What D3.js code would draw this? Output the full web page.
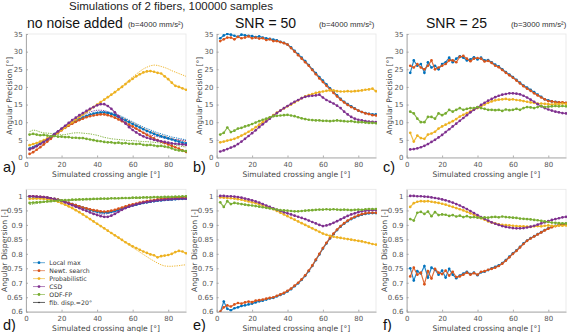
<!DOCTYPE html>
<html><head><meta charset="utf-8">
<script src="https://cdn.jsdelivr.net/npm/d3@7"></script>
<style>body{margin:0;background:#fff}svg{display:block}</style>
</head><body><svg id="chart" width="568" height="332"></svg>
<script>
// ---------- categories ----------
const angles = [2,4,6,8,10,12,14,16,18,20,22,24,26,28,30,32,34,36,38,40,42,44,46,48,50,52,54,56,58,60,62,64,66,68,70,72,74,76,78,80,82,84,86,88,90];
const methods = ["Local max","Newt. search","Probabilistic","CSD","ODF-FP"];
const dispLabel = "fib. disp.=20°";
const colors = ["#0072BD","#D95319","#EDB120","#7E2F8E","#77AC30"];
const xTicks = [0,20,40,60,80];
const precTicks = [0,5,10,15,20,25,30,35];
const dispTicks = [0.6,0.65,0.7,0.75,0.8,0.85,0.9,0.95,1];
const titleText = "Simulations of 2 fibers, 100000 samples";
const colTitles = ["no noise added","SNR = 50","SNR = 25"];
const colSubs = ["(b=4000 mm/s²)","(b=4000 mm/s²)","(b=3000 mm/s²)"];
const panelLetters = ["a)","b)","c)","d)","e)","f)"];

// ---------- panel a : precision, no noise ----------
const aBlue = [2.5,2.8,3.3,3.9,4.5,5.2,5.9,6.6,7.3,8.0,8.6,9.2,9.8,10.3,10.8, 11.3,11.7,12.1,12.4,12.6,12.7,12.7,12.6,12.3,12.0,11.5,11.0,10.5,10.0,9.5, 9.0,8.5,8.0,7.5,7.1,6.7,6.3,6.0,5.7,5.4,5.1,4.8,4.5,4.2,4.0];
const aRed = [1.0,1.5,2.2,2.9,3.7,4.5,5.3,6.2,7.0,7.7,8.4,9.0,9.6,10.1,10.6, 11.0,11.4,11.7,11.9,12.1,12.2,12.2,12.0,11.7,11.3,10.8,10.3,9.8,9.3,8.8, 8.2,7.6,7.0,6.4,5.9,5.4,4.9,4.5,4.1,3.7,3.3,2.9,2.5,2.0,1.6];
const aOrange = [3.5,3.8,4.1,4.5,4.9,5.4,5.9,6.4,7.1,7.8,8.5,9.3,10.0,10.8,11.5, 12.2,12.9,13.6,14.3,15.0,15.7,16.4,17.1,17.8,18.5,19.3,20.0,20.8,21.6,22.3, 23.0,23.6,24.1,24.4,24.5,24.3,24.0,23.8,23.0,22.2,21.2,20.3,20.0,19.6,19.2];
const aPurple = [2.3,2.7,3.2,3.8,4.4,5.1,5.8,6.6,7.4,8.2,9.0,9.8,10.6,11.3,12.0, 12.6,13.2,13.8,14.3,14.8,15.1,15.1,14.6,13.8,12.8,11.7,10.6,9.6,8.6,7.8, 7.1,6.5,6.0,5.6,5.3,5.0,4.8,4.6,4.4,4.2,4.0,3.9,3.8,3.7,3.6];
const aGreen = [6.5,6.7,6.5,6.3,6.4,6.2,6.0,6.1,5.9,5.9,5.8,5.8,5.6,5.6,5.5, 5.5,5.3,5.1,4.9,4.7,4.6,4.4,4.3,4.3,4.1,4.2,4.0,4.1,3.9,3.9, 3.8,3.9,3.6,3.5,3.6,3.4,3.2,3.3,3.1,2.9,2.6,2.2,2.0,1.9,1.8];
const aBlueD = [2.8,3.1,3.6,4.1,4.7,5.4,6.0,6.7,7.4,8.1,8.8,9.4,10.0,10.6,11.1, 11.6,12.0,12.4,12.7,12.9,13.0,13.0,12.9,12.7,12.4,12.0,11.6,11.1,10.6,10.1, 9.6,9.1,8.6,8.2,7.8,7.4,7.0,6.7,6.4,6.1,5.8,5.6,5.4,5.2,5.0];
const aRedD = [2.0,2.5,3.1,3.8,4.5,5.2,5.9,6.6,7.3,8.0,8.7,9.3,9.9,10.5,11.0, 11.4,11.8,12.1,12.4,12.6,12.7,12.7,12.6,12.4,12.1,11.7,11.3,10.8,10.3,9.8, 9.3,8.8,8.3,7.8,7.4,7.0,6.6,6.3,6.0,5.7,5.4,5.1,4.9,4.7,4.5];
const aOrangeD = [3.5,3.8,4.1,4.5,4.9,5.4,5.9,6.4,7.1,7.8,8.5,9.3,10.0,10.8,11.5, 12.2,12.9,13.6,14.3,15.0,15.7,16.4,17.1,17.8,18.5,19.4,20.2,21.1,22.0,22.8, 23.6,24.4,25.1,25.6,26.0,26.2,26.1,25.8,25.5,25.1,24.6,24.2,23.8,23.4,23.0];
const aPurpleD = [2.6,3.0,3.5,4.1,4.7,5.4,6.1,6.8,7.5,8.2,8.9,9.6,10.3,10.9,11.5, 12.0,12.5,12.9,13.2,13.4,13.4,13.3,13.0,12.5,11.9,11.2,10.5,9.8,9.1,8.5, 8.0,7.5,7.1,6.7,6.4,6.1,5.9,5.7,5.5,5.3,5.2,5.1,5.0,4.9,4.8];
const aGreenD = [7.3,7.8,7.6,7.2,7.0,6.9,6.8,6.6,6.5,6.4,6.5,6.7,6.9,7.0,7.0, 6.9,6.8,6.7,6.5,6.3,6.0,5.7,5.5,5.3,5.2,5.1,5.0,4.9,4.8,4.8, 4.7,4.6,4.5,4.5,4.4,4.3,4.2,4.1,4.0,3.9,3.7,3.5,3.3,3.1,3.0];

// ---------- panel b : precision, SNR 50 ----------
const bBlue = [33.8,34.6,35.0,34.8,34.5,34.2,34.8,34.6,34.5,34.4,34.1,34.3,34.0,33.8,33.6, 33.4,33.2,32.8,32.5,32.0,31.2,30.2,29.3,28.3,27.3,26.2,25.0,23.9,22.8,21.8, 20.7,19.6,18.6,17.6,16.6,15.8,15.1,14.5,13.9,13.3,12.9,12.6,12.4,12.2,12.2];
const bRed = [33.0,33.5,34.0,34.0,33.5,34.2,33.8,34.0,34.3,33.8,34.0,33.7,33.8,33.3,33.5, 33.0,33.0,32.7,32.4,32.0,31.0,30.0,29.0,28.0,27.0,26.0,24.8,23.6,22.4,21.4, 20.3,19.3,18.3,17.3,16.4,15.6,14.9,14.3,13.8,13.3,12.9,12.5,12.3,12.0,11.9];
const bOrange = [4.3,4.5,4.8,5.0,5.3,5.7,6.2,6.7,7.3,7.9,8.6,9.3,10.0,10.7,11.3, 12.0,12.7,13.3,13.9,14.5,15.0,15.6,16.2,16.8,17.3,17.7,18.0,18.3,18.5,18.7, 18.9,19.0,19.0,18.8,18.7,18.7,18.8,18.7,18.8,18.9,19.0,19.2,19.3,19.5,18.8];
const bPurple = [1.7,2.0,2.4,2.8,3.2,3.8,4.5,5.3,6.1,6.9,7.7,8.6,9.4,10.2,11.0, 11.8,12.6,13.3,14.0,14.6,15.2,15.8,16.3,16.8,17.2,17.4,17.5,17.6,17.8,17.0, 16.3,15.8,15.3,14.7,14.0,13.0,12.2,11.5,11.0,10.7,10.5,10.3,10.2,10.1,10.0];
const bGreen = [6.5,7.0,8.5,7.2,7.6,8.2,8.4,8.8,9.1,9.5,9.9,10.3,10.7,11.0,11.4, 11.7,11.8,11.9,12.0,12.1,11.9,11.7,11.4,11.1,10.9,10.7,10.6,10.5,10.5,10.4, 10.4,10.3,10.4,10.5,10.4,10.3,10.2,10.3,10.1,10.0,10.0,9.9,9.8,9.8,9.7];

// ---------- panel c : precision, SNR 25 ----------
const cBlue = [24.0,27.5,26.0,26.5,24.0,27.0,25.5,26.0,25.0,26.5,27.0,28.3,27.0,28.0,28.7, 28.3,27.5,27.8,28.4,27.8,28.3,27.5,27.6,27.0,26.3,25.8,25.0,24.2,23.5,22.8, 22.0,21.2,20.4,19.8,19.2,18.5,17.8,17.2,16.5,16.2,15.9,15.8,15.6,15.5,15.4];
const cRed = [26.0,25.5,26.5,25.5,25.0,26.0,27.5,25.0,25.5,26.0,26.5,27.5,27.5,27.0,28.5, 28.8,28.0,27.3,28.0,28.2,28.0,27.2,27.4,26.8,26.0,25.6,24.8,24.0,23.3,22.6, 21.8,21.0,20.2,19.5,18.9,18.2,17.6,17.0,16.5,16.0,15.9,15.7,15.6,15.6,15.5];
const cOrange = [7.0,4.5,6.2,5.5,5.3,6.5,6.8,7.3,8.2,8.8,9.3,9.8,10.3,10.9,11.6, 12.1,12.6,13.1,13.6,14.0,14.5,15.0,15.5,15.9,16.2,16.4,16.5,16.6,16.4,16.5, 16.3,16.2,16.0,15.8,15.6,15.5,15.3,15.3,15.2,15.1,15.0,15.2,15.1,15.3,15.2];
const cPurple = [2.3,2.4,2.6,2.9,3.3,3.8,4.4,5.0,5.7,6.4,7.2,8.0,8.8,9.6,10.4, 11.2,12.0,12.8,13.5,14.2,14.9,15.5,16.1,16.6,17.1,17.5,17.8,18.0,18.2,18.2, 18.1,17.9,17.5,17.0,16.4,15.8,15.1,14.5,14.0,13.6,13.3,13.0,12.8,12.6,12.5];
const cGreen = [13.0,12.5,11.0,10.0,10.0,11.5,11.5,11.0,12.5,12.0,12.5,13.5,13.0,13.5,14.0, 13.5,13.8,14.0,14.0,14.3,14.0,13.8,13.5,13.5,13.4,13.5,13.2,13.6,13.4,13.5, 13.8,13.5,14.0,14.3,14.2,14.0,14.3,14.6,14.3,14.4,14.5,14.6,14.5,14.6,14.5];

// ---------- panel d : dispersion, no noise ----------
const dBlue = [0.998,0.998,0.997,0.996,0.995,0.994,0.992,0.990,0.987,0.984,0.980,0.976,0.972,0.968,0.964, 0.960,0.956,0.952,0.949,0.946,0.944,0.943,0.943,0.945,0.948,0.952,0.956,0.960,0.964,0.967, 0.970,0.973,0.976,0.978,0.980,0.982,0.984,0.985,0.986,0.987,0.988,0.989,0.990,0.990,0.991];
const dRed = [0.999,0.999,0.998,0.997,0.996,0.994,0.992,0.990,0.987,0.984,0.980,0.976,0.972,0.968,0.964, 0.960,0.957,0.954,0.951,0.949,0.947,0.946,0.947,0.949,0.952,0.956,0.960,0.964,0.968,0.971, 0.974,0.977,0.980,0.982,0.984,0.986,0.988,0.990,0.991,0.992,0.993,0.994,0.995,0.996,0.997];
const dOrange = [0.990,0.991,0.991,0.991,0.990,0.989,0.987,0.984,0.980,0.975,0.970,0.964,0.958,0.951,0.944, 0.936,0.928,0.920,0.912,0.904,0.896,0.888,0.880,0.872,0.864,0.856,0.848,0.840,0.833,0.826, 0.820,0.814,0.808,0.803,0.798,0.795,0.788,0.792,0.794,0.796,0.800,0.806,0.810,0.808,0.802];
const dPurple = [0.999,0.999,0.998,0.997,0.996,0.994,0.992,0.989,0.986,0.983,0.978,0.973,0.968,0.963,0.958, 0.953,0.948,0.943,0.938,0.934,0.930,0.928,0.928,0.932,0.938,0.945,0.952,0.958,0.963,0.967, 0.971,0.974,0.977,0.979,0.981,0.983,0.985,0.986,0.987,0.988,0.989,0.990,0.990,0.991,0.991];
const dGreen = [0.976,0.977,0.978,0.979,0.980,0.981,0.982,0.983,0.984,0.985,0.986,0.986,0.987,0.987,0.988, 0.988,0.989,0.989,0.990,0.990,0.991,0.991,0.991,0.992,0.992,0.992,0.993,0.993,0.993,0.994, 0.994,0.994,0.995,0.995,0.995,0.996,0.996,0.996,0.997,0.997,0.997,0.998,0.998,0.999,0.999];
const dBlueD = [0.997,0.997,0.996,0.995,0.994,0.993,0.991,0.989,0.986,0.983,0.979,0.975,0.970,0.966,0.962, 0.958,0.954,0.950,0.946,0.943,0.941,0.940,0.941,0.943,0.946,0.950,0.954,0.958,0.962,0.965, 0.968,0.971,0.974,0.976,0.978,0.980,0.982,0.983,0.984,0.985,0.986,0.987,0.988,0.988,0.989];
const dRedD = [0.998,0.998,0.997,0.996,0.995,0.993,0.991,0.989,0.986,0.983,0.979,0.975,0.971,0.967,0.963, 0.959,0.955,0.952,0.949,0.946,0.944,0.943,0.944,0.946,0.949,0.953,0.957,0.961,0.965,0.968, 0.971,0.974,0.977,0.979,0.981,0.983,0.985,0.987,0.988,0.989,0.990,0.991,0.992,0.993,0.994];
const dOrangeD = [0.990,0.991,0.991,0.991,0.990,0.989,0.987,0.984,0.980,0.975,0.970,0.964,0.958,0.951,0.944, 0.936,0.928,0.920,0.912,0.904,0.896,0.888,0.880,0.872,0.864,0.856,0.848,0.840,0.830,0.822, 0.814,0.806,0.798,0.790,0.782,0.775,0.768,0.762,0.758,0.757,0.757,0.758,0.759,0.761,0.762];
const dPurpleD = [0.998,0.998,0.997,0.996,0.995,0.993,0.991,0.988,0.985,0.982,0.977,0.972,0.967,0.962,0.957, 0.952,0.948,0.944,0.940,0.938,0.937,0.937,0.939,0.942,0.946,0.951,0.956,0.960,0.964,0.967, 0.970,0.973,0.976,0.978,0.980,0.982,0.983,0.984,0.985,0.986,0.987,0.988,0.988,0.989,0.989];
const dGreenD = [0.970,0.972,0.974,0.976,0.978,0.979,0.980,0.981,0.982,0.983,0.984,0.984,0.985,0.985,0.986, 0.986,0.987,0.987,0.988,0.988,0.989,0.989,0.989,0.990,0.990,0.990,0.991,0.991,0.991,0.992, 0.992,0.992,0.993,0.993,0.993,0.994,0.994,0.994,0.995,0.995,0.995,0.996,0.996,0.997,0.997];

// ---------- panel e : dispersion, SNR 50 ----------
const eBlue = [0.598,0.635,0.610,0.605,0.612,0.615,0.620,0.622,0.625,0.628,0.632,0.636,0.638,0.642,0.646, 0.648,0.653,0.658,0.663,0.670,0.678,0.688,0.698,0.710,0.724,0.740,0.758,0.778,0.798,0.818, 0.836,0.853,0.868,0.882,0.894,0.904,0.913,0.920,0.926,0.931,0.935,0.938,0.940,0.941,0.941];
const eRed = [0.600,0.615,0.622,0.618,0.625,0.630,0.628,0.632,0.635,0.633,0.638,0.640,0.642,0.645,0.648, 0.650,0.655,0.660,0.665,0.672,0.680,0.690,0.700,0.712,0.726,0.742,0.760,0.780,0.800,0.820, 0.838,0.855,0.870,0.884,0.896,0.906,0.915,0.922,0.928,0.933,0.937,0.940,0.942,0.942,0.942];
const eOrange = [0.995,0.994,0.993,0.992,0.991,0.989,0.987,0.984,0.981,0.978,0.975,0.971,0.967,0.963,0.959, 0.954,0.948,0.942,0.936,0.930,0.924,0.918,0.912,0.906,0.900,0.894,0.888,0.882,0.876,0.870, 0.866,0.862,0.859,0.857,0.855,0.853,0.851,0.849,0.847,0.845,0.843,0.840,0.837,0.834,0.832];
const ePurple = [1.000,1.000,0.999,0.999,0.998,0.996,0.994,0.991,0.988,0.985,0.981,0.977,0.972,0.967,0.962, 0.957,0.952,0.948,0.944,0.940,0.936,0.932,0.928,0.924,0.920,0.915,0.910,0.905,0.900,0.896, 0.898,0.902,0.907,0.913,0.919,0.925,0.931,0.936,0.940,0.944,0.947,0.949,0.950,0.951,0.951];
const eGreen = [0.978,0.962,0.982,0.972,0.976,0.974,0.972,0.970,0.968,0.967,0.965,0.963,0.961,0.959,0.957, 0.955,0.953,0.951,0.950,0.949,0.948,0.947,0.947,0.948,0.949,0.950,0.951,0.952,0.953,0.953, 0.954,0.953,0.954,0.953,0.952,0.953,0.952,0.951,0.952,0.953,0.952,0.954,0.955,0.955,0.955];

// ---------- panel f : dispersion, SNR 25 ----------
const fBlue = [0.750,0.708,0.740,0.732,0.758,0.718,0.752,0.745,0.728,0.742,0.718,0.748,0.728,0.716,0.725, 0.732,0.738,0.730,0.735,0.726,0.736,0.738,0.744,0.750,0.755,0.760,0.768,0.778,0.790,0.802, 0.812,0.824,0.836,0.846,0.854,0.861,0.868,0.875,0.882,0.888,0.893,0.897,0.900,0.902,0.904];
const fRed = [0.722,0.752,0.728,0.735,0.695,0.740,0.715,0.748,0.735,0.730,0.742,0.725,0.738,0.720,0.722, 0.728,0.735,0.728,0.733,0.728,0.738,0.740,0.745,0.748,0.752,0.758,0.766,0.776,0.788,0.800, 0.810,0.822,0.834,0.845,0.853,0.860,0.867,0.874,0.881,0.887,0.892,0.896,0.899,0.901,0.903];
const fOrange = [0.962,0.975,0.980,0.982,0.981,0.982,0.980,0.978,0.976,0.973,0.970,0.966,0.962,0.958,0.954, 0.950,0.945,0.940,0.935,0.929,0.923,0.918,0.912,0.908,0.905,0.902,0.900,0.899,0.898,0.897, 0.896,0.895,0.895,0.894,0.893,0.895,0.896,0.895,0.897,0.898,0.897,0.896,0.898,0.897,0.898];
const fPurple = [1.000,1.000,0.999,0.999,0.998,0.997,0.995,0.993,0.991,0.988,0.985,0.981,0.977,0.972,0.967, 0.961,0.955,0.948,0.941,0.934,0.927,0.921,0.915,0.909,0.904,0.900,0.896,0.893,0.891,0.889, 0.888,0.888,0.889,0.891,0.894,0.897,0.901,0.905,0.909,0.913,0.917,0.920,0.923,0.926,0.928];
const fGreen = [0.920,0.915,0.942,0.945,0.938,0.946,0.930,0.944,0.934,0.936,0.935,0.931,0.934,0.929,0.932, 0.927,0.930,0.926,0.927,0.925,0.924,0.926,0.925,0.927,0.928,0.926,0.929,0.927,0.926,0.925, 0.924,0.922,0.921,0.920,0.919,0.917,0.916,0.914,0.912,0.910,0.908,0.907,0.906,0.905,0.905];

// ---------- layout ----------
const svg = d3.select("#chart");
const cols = [{x0:26, x1:186, px:3}, {x0:216.7, x1:376, px:193}, {x0:406.7, x1:566, px:383}];
const rows = [
  {y0:34, y1:157.5, domain:[0,35], ticks:precTicks, fmt:d=>String(d), label:"Angular Precision [°]", letterY:172, xlabY:176.5, lxOff:[9,199,389]},
  {y0:189.3, y1:311.7, domain:[0.6,1.023], ticks:dispTicks, fmt:d=>String(+d.toFixed(2)), label:"Angular Dispersion [-]", letterY:329.5, xlabY:330.5, lxOff:[4.5,194.5,384.5]}
];
const panelSeries = [
  {solid:[aBlue,aRed,aOrange,aPurple,aGreen], dotted:[aBlueD,aRedD,aOrangeD,aPurpleD,aGreenD]},
  {solid:[bBlue,bRed,bOrange,bPurple,bGreen], dotted:null},
  {solid:[cBlue,cRed,cOrange,cPurple,cGreen], dotted:null},
  {solid:[dBlue,dRed,dOrange,dPurple,dGreen], dotted:[dBlueD,dRedD,dOrangeD,dPurpleD,dGreenD]},
  {solid:[eBlue,eRed,eOrange,ePurple,eGreen], dotted:null},
  {solid:[fBlue,fRed,fOrange,fPurple,fGreen], dotted:null}
];

const tickFont = "'DejaVu Sans', sans-serif";
const titleFont = "'Liberation Sans', Arial, sans-serif";

svg.append("text").attr("x",69).attr("y",10).attr("font-family",titleFont).attr("font-size",11.5).attr("fill","#222").text(titleText);

const subX = [[27,128],[235,319],[426,511]];
cols.forEach((c,i)=>{
  svg.append("text").attr("x",subX[i][0]).attr("y",28).attr("font-family",titleFont).attr("font-size",14).attr("fill","#111").text(colTitles[i]);
  svg.append("text").attr("x",subX[i][1]).attr("y",27).attr("font-family",titleFont).attr("font-size",7.8).attr("fill","#333").text(colSubs[i]);
});

const defs = svg.append("defs");

rows.forEach((r,ri)=>{
  cols.forEach((c,ci)=>{
    const idx = ri*3+ci;
    const x = d3.scaleLinear().domain([0,90]).range([c.x0,c.x1]);
    const y = d3.scaleLinear().domain(r.domain).range([r.y1,r.y0]);
    const g = svg.append("g");
    const clipId = "clip"+idx;
    defs.append("clipPath").attr("id",clipId).append("rect")
      .attr("x",c.x0).attr("y",r.y0-1).attr("width",c.x1-c.x0+1).attr("height",r.y1-r.y0+1);

    // box (light)
    g.append("rect").attr("x",c.x0).attr("y",r.y0).attr("width",c.x1-c.x0).attr("height",r.y1-r.y0)
      .attr("fill","none").attr("stroke","#e6e6e6").attr("stroke-width",0.8);

    // axes
    const xa = g.append("g").attr("transform",`translate(0,${r.y1})`)
      .call(d3.axisBottom(x).tickValues(xTicks).tickSizeInner(-2).tickSizeOuter(0).tickPadding(4.5));
    const ya = g.append("g").attr("transform",`translate(${c.x0},0)`)
      .call(d3.axisLeft(y).tickValues(r.ticks).tickFormat(r.fmt).tickSizeInner(-2).tickSizeOuter(0).tickPadding(3.3));
    [xa,ya].forEach(a=>{
      a.select(".domain").attr("stroke","#9a9a9a").attr("stroke-width",0.8);
      a.selectAll(".tick line").attr("stroke","#9a9a9a").attr("stroke-width",0.8);
      a.selectAll(".tick text").attr("font-family",tickFont).attr("font-size",7).attr("fill","#555");
    });

    // axis labels
    g.append("text").attr("x",(c.x0+c.x1)/2).attr("y",r.xlabY).attr("text-anchor","middle")
      .attr("font-family",tickFont).attr("font-size",7.6).attr("fill","#444").text("Simulated crossing angle [°]");
    g.append("text").attr("transform",`translate(${r.lxOff[ci]},${(r.y0+r.y1)/2}) rotate(-90)`)
      .attr("text-anchor","middle").attr("dy","0.35em")
      .attr("font-family",tickFont).attr("font-size",7.6).attr("fill","#444").text(r.label);

    // panel letter
    svg.append("text").attr("x",c.px).attr("y",r.letterY).attr("font-family",titleFont).attr("font-size",14.5).attr("fill","#111").text(panelLetters[idx]);

    // data
    const plot = g.append("g").attr("clip-path",`url(#${clipId})`);
    const line = d3.line().x((d,i)=>x(angles[i])).y(d=>y(d));
    const ps = panelSeries[idx];
    if (ps.dotted) {
      ps.dotted.forEach((vals,si)=>{
        plot.append("path").attr("d",line(vals)).attr("fill","none").attr("stroke",colors[si])
          .attr("stroke-width",0.9).attr("stroke-dasharray","1.3,1.1");
      });
    }
    ps.solid.forEach((vals,si)=>{
      plot.append("path").attr("d",line(vals)).attr("fill","none").attr("stroke",colors[si])
        .attr("stroke-width",1.2).attr("stroke-opacity",0.85);
      plot.selectAll(null).data(vals).enter().append("circle")
        .attr("cx",(d,i)=>x(angles[i])).attr("cy",d=>y(d)).attr("r",1.35).attr("fill",colors[si]);
    });

    // legend in panel d
    if (idx===3) {
      const lg = g.append("g");
      const items = methods.map((m,i)=>({name:m,color:colors[i]})).concat([{name:dispLabel,color:"#222",thin:true}]);
      items.forEach((it,i)=>{
        const yy = 262.7 + i*7.95;
        lg.append("line").attr("x1",33).attr("x2",45).attr("y1",yy).attr("y2",yy)
          .attr("stroke",it.color).attr("stroke-width",it.thin?0.7:1).attr("stroke-opacity",it.thin?1:0.6);
        lg.append("circle").attr("cx",39).attr("cy",yy).attr("r",it.thin?0.8:1.4).attr("fill",it.color);
        lg.append("text").attr("x",49.3).attr("y",yy).attr("dy","0.35em").attr("font-family",tickFont)
          .attr("font-size",6.2).attr("fill","#333").text(it.name);
      });
    }
  });
});
</script></body></html>
